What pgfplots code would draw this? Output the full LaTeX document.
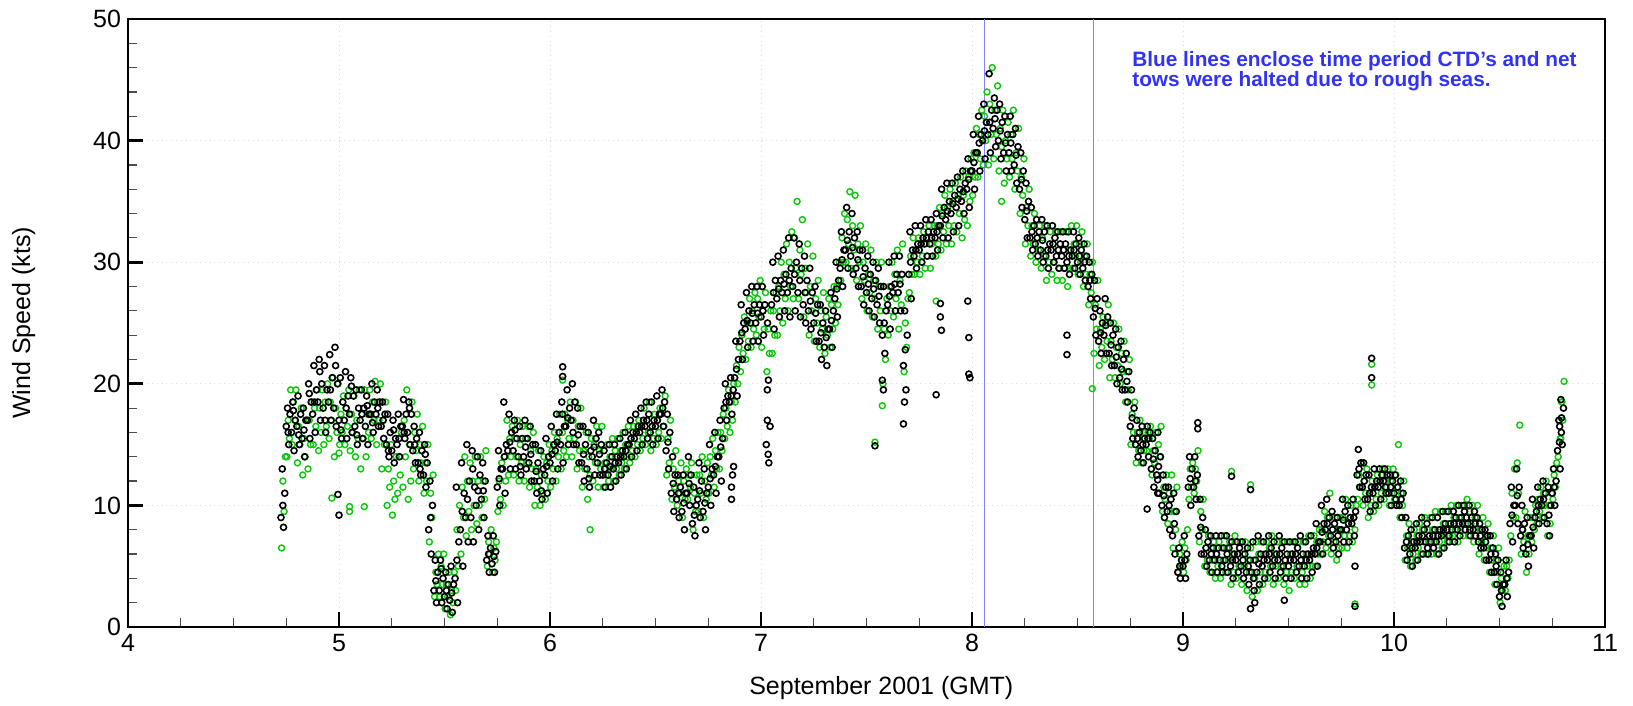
\documentclass[border=0pt]{standalone}
\usepackage{fontspec}
\setmainfont{Liberation Sans}
\usepackage{pgfplots}
\pgfplotsset{compat=1.18}
\usepackage{pgfplotstable}
\definecolor{ptgreen}{RGB}{10,200,10}
\definecolor{bline}{RGB}{130,130,255}
\definecolor{btext}{RGB}{50,50,245}

% wind speed (kts): per time step, five black-sensor and four green-sensor readings
\pgfplotstableread{
t b1 b2 b3 b4 g1 g2 g3 g4 b5
4.725 8.2 9.0 11 13 6.5 9.5 12 14 10
4.75 15 16.5 17.5 18 14 15.5 17 19.5 16
4.775 14.5 16 17 18.5 15 17 18.5 19.5 17.8
4.8 15 16.5 17.5 19 13.5 15 16.5 18 15.8
4.825 14 15.5 17 18 12.5 14 15.5 17 16.2
4.85 15.5 17 18.5 20 13 15 17 18.5 19.2
4.875 16 17.5 19.5 21.5 15 16.5 18 19.5 18.5
4.9 17 18.5 20 22 14.5 16 18 19.5 21
4.925 16 18 19.5 21.5 15 16.5 18.5 20 17
4.95 17 18.5 20.5 22.4 15.5 17 18.5 20.5 19.5
4.975 16.5 18 20 23 14 16 18 20 21.5
5.0 15.5 17 18.5 20.5 15 16 17.5 19 16.2
5.025 15.5 17 19 21 15 16.5 18 19.5 18
5.05 16 17.5 19 20.5 14.5 16 17.5 19 19.8
5.075 15 16.5 18 19.5 14 15.5 17 19.5 15.8
5.1 15.5 17 18 19.5 13 15.5 17.5 19.5 17.5
5.125 15 16.5 17.5 19 14 16 17.5 19.5 18.2
5.15 16 17.5 18.5 20 15.5 17 18.5 20.2 16.8
5.175 16.5 17.5 18.5 19.5 15 17 18.5 20 18
5.2 15.5 16.5 17.5 18.5 13 15 17 18.5 17
5.225 14 15 16 17.5 10 11.5 13 15 14.5
5.25 13.5 14.5 15.5 17 9.2 10.5 12 14 16.2
5.275 14 15 16.5 17.5 11 12.5 14 16 15.5
5.3 15.5 16.5 17.5 18.7 11.5 14 17 19.5 16
5.325 15 16 17.5 18.5 10.5 12 15 18.5 18
5.35 13.5 14.5 15.5 16.5 13 14.5 16 17.5 15
5.375 12.5 13.5 14.5 16 12 13.5 15 16.5 13
5.4 11.5 12.5 13.5 15 11 12 13.5 15 14.2
5.425 6 8 10 12 7 9 11 12.5 9
5.45 2 3 4.5 5.5 2.5 3.5 4.5 6 3.8
5.475 2 3 4 5.5 2.5 3.5 5 6 4.8
5.5 1.5 2.5 3.5 4.5 1.5 2.5 3.5 4.5 3
5.525 1.2 2.2 3.5 5 1 2 3 4.5 2.8
5.55 2 4 7 11.5 3 5 8 10 5.5
5.575 5 8 11 13.5 6 9 11.5 14 9.5
5.6 7 9 12 15 7.5 9.5 12 13.5 10.5
5.625 7 9 11.5 14.5 8 10 12 14 13
5.65 8 10 12.5 14 8.5 10 12 14 11.2
5.675 9 10.5 12 13.5 9 10.5 12 14.5 11.2
5.7 4.5 5.5 6.5 7.5 5 6 7 8 6
5.725 4.5 5.2 6.2 7.5 4.5 5.5 6.5 7 5.8
5.75 10 11.5 13 14.5 9.5 10.5 12 13.5 12.2
5.775 11 13 15 18.5 10 12 14 17 14
5.8 13 14.5 16 17.5 12.5 14 15.5 16.5 15.2
5.825 13 14.5 15.5 17 12.5 14 15.5 17 16.2
5.85 12.5 14 15.5 16.5 12 13.5 15 16.5 13.2
5.875 13 14 15.5 17 12 13.5 15.5 16.5 14.8
5.9 12 13.5 15 16.5 11.5 13 14.5 16 14.2
5.925 11 12 13.5 15 10 11.5 13 14.5 12.8
5.95 10.5 12 13 14.5 10 11 12.5 14 11.2
5.975 11 12.5 14 15.5 10.5 12 13.5 15 13.2
6.0 12 13.5 15 16.5 11.5 13 14.5 16 14.2
6.025 13 14.5 16 17.5 12 14 15.5 17.5 15.2
6.05 13.5 15 16.5 18.5 13 14.5 16 17.5 17.5
6.075 15 16.5 18 19.5 14 15.5 17 18.5 17.2
6.1 15 17 18.5 20 14 15.5 17 18.5 16
6.125 13.5 15 16.5 18 13 14.5 16.5 18 15.8
6.15 12 13.5 15 16.5 11.5 13 14.5 16 14.2
6.175 11.5 13 14.5 16 10.5 12.5 14 15.5 12.2
6.2 12.5 14 15.5 17 12 13.5 15 16.5 14.8
6.225 12.5 13.5 15 16 11.5 13 14.5 16.5 14.2
6.25 11.5 12.5 13.5 14.5 11.5 12.5 13.5 15 13
6.275 11.5 12.5 14 15 12 13 14 15.5 13.2
6.3 12 13 14 15 12 13 14.5 15.5 13.5
6.325 12.5 13.5 14.5 15.5 12.5 13.5 14.5 16 14
6.35 13 14 15 16 13 14 15 16.5 14.5
6.375 14 15 16 17 13.5 14.5 15.5 16.5 15.5
6.4 14.5 15.5 16.5 17.5 14 15 16 17 16
6.425 15 16 17 18 14.5 15.5 16.5 18 16.5
6.45 15.5 16.5 17.5 18.5 15 16 17 18.5 17
6.475 15 16 17 18.5 14.5 15.5 16.5 17.5 16.5
6.5 15.5 16.5 17.5 19 15 16 17 18 17
6.525 16.5 17.5 18.5 19.5 15.5 16.5 18 19 18
6.55 13 14.5 16 17.5 12.5 13.5 15.5 17 15.2
6.575 9.5 11 12.5 14 10.5 11.5 13 14.5 11.8
6.6 9 10.5 11.5 12.5 10 11 12 13.5 11
6.625 8 9.5 11 12.5 9 10.5 12 13 10.2
6.65 10 11 12.5 14 10.5 11.5 12.5 13.5 11.8
6.675 7.5 8.5 10 11.5 8 9.5 11 12.5 9.2
6.7 9 10.5 12 13.5 9.5 11 12.5 14 11.2
6.725 8 9.5 11 13 9 10.5 12 13.5 10.2
6.75 10 11.5 13 15 11 12.5 14 15.5 12.2
6.775 11 12.5 14 16 11.5 13 14.5 16 13.2
6.8 12 14 15.5 17 13 14.5 16 17.5 14.8
6.825 17 18 19 20 15.5 16.5 18 19.5 18.5
6.85 17.5 18.5 19.5 20.5 16 17 18.5 20 19
6.875 19 20.5 22 23.5 18.5 20 21.5 23 21.2
6.9 22 23.5 25 26.5 21 22.5 24 25.5 24.2
6.925 23 24.5 26 27.5 22 23.5 25 27 25.2
6.95 23.5 25 26.5 28 23 24.5 26 27.5 25.8
6.975 23.5 25 26.5 28 24 25.5 27 28.5 25.8
7.0 24 25.5 26.5 28 23 24.5 26 27.5 26
7.025 13.5 15 16.5 25 21 22.5 24.5 26 14.2
7.05 24.5 26.5 28.5 30 22.5 24 26 27.5 27.5
7.075 25.5 27 28.5 30.5 24 26 28 30 27.8
7.1 26 27.5 29 31 25 27 29 31.5 28.2
7.125 25.5 27.5 29.5 32 26 28 30 32.5 28.5
7.15 26 28 30 32 27 29.5 32 35 29
7.175 25.5 27.5 29.5 31.5 27 29 31 33.5 28.5
7.2 25 26.5 28.5 30.5 25.5 27.5 29.5 31.5 27.5
7.225 24.5 26 27.5 29.5 24 26 28 30.5 26.8
7.25 23.5 25 26.5 28 23.5 25 27 28.5 25.8
7.275 22 23.5 25 26.5 23 24.5 26 27.5 24.2
7.3 21.5 23 24.5 26 22.5 24 25.5 27 23.8
7.325 23 24.5 26 27.5 23 24.5 26.5 28 25.2
7.35 25.5 27 28.5 30 25 26.5 28 30 27.8
7.375 28 29.5 31 32.5 28.5 30 32 34 30.2
7.4 29.5 31 32.5 34.5 30 31.5 33.5 35.8 31.8
7.425 29 30.5 32 34 29.5 31 33 35.5 31.2
7.45 28 29.5 31 32.5 28.5 30 31.5 33 30.2
7.475 26.5 28 29.5 31 27 28.5 30 31.5 28.8
7.5 26 27.5 29 30.5 26 27.5 29 31 28.2
7.525 25.5 27 28.5 30 25.5 27 28.5 30 27.8
7.55 25 26.5 28 29.5 24.5 26 28 30 27.2
7.575 22.5 24 26 28 20 22 24.5 27 25
7.6 24.5 26.5 28 30 24 26 28 30 27.2
7.625 26 27.5 29 30.5 25.5 27 29 31 28.2
7.65 26 27.5 29 30.5 24.5 26.5 28.5 31.5 28.2
7.675 19.5 21.5 24 26 21 23 25 27 22.8
7.7 27 29 31 32.5 27.5 29 30.5 32 30
7.725 29.5 30.5 31.5 33 29 30 31 32 31
7.75 30 31 32 33 29 30.5 31.5 32.5 31.5
7.775 30.5 31.5 32.5 33.5 29.5 30.5 32 33 32
7.8 30.5 31.5 32.5 33.5 29.5 30.5 31.5 33 32
7.825 31 32 33 34 30.5 31.5 33 34.5 32.5
7.85 32 33 34.5 36 31 32.5 34 35.5 33.8
7.875 32 33.5 35 36.5 31.5 33 34.5 36 34.2
7.9 32.5 34 35.5 36.5 31.5 33 35 36.5 34.8
7.925 33 34.5 36 37 32.5 34 35.5 37 35.2
7.95 34 35 36.5 37.5 32 33.5 35.5 37.5 35.8
7.975 34.5 36 37.5 38.5 33 35 37 38.5 36.8
8.0 36 37.5 39 40.5 35.5 37 39 41 38.2
8.025 37.5 39 40.5 42 37 38.5 40.5 42.5 39.8
8.05 38.5 40 41.5 43 38 40 42 44 40.8
8.075 39 40.5 42.5 45.5 38 40.5 43 46 41.5
8.1 39.5 41 42.5 43.5 38.5 40.5 42.5 44.5 41.8
8.125 38.5 40 41.5 43 37.5 39.5 41 42.5 40.8
8.15 37.5 39 40.5 42 36.5 38.5 40 41.5 39.8
8.175 37.5 39 40.5 42 37 38.5 40.5 42.5 39.8
8.2 36.5 38 39.5 41 36 37.5 39 41 38.8
8.225 34.5 36 37.5 39 34 35.5 37 38.5 36.8
8.25 32 33.5 35 36.5 31.5 33 34.5 36 34.2
8.275 31 32 33 34.5 30.5 31.5 33 34 32.5
8.3 30.5 31.5 32.5 33.5 30 31 32 33 32
8.325 30 31 32.5 33.5 29.5 30.5 32 33 31.8
8.35 29.5 30.5 31.5 33 28.5 30 31 32.5 31
8.375 30 31 32 33 29 30 31.5 32.5 31.5
8.4 29.5 30.5 31.5 32.5 28.5 29.5 31 32.5 31
8.425 29.5 30.5 31.5 32.5 28.5 29.5 31 32.5 31
8.45 29 30 31 32.5 28 29.5 31 33 30.5
8.475 29.5 30.5 31.5 32.5 29.5 30.5 31.5 33 31
8.5 29 30 31 32 29 30 31.5 32.5 30.5
8.525 28.5 29.5 30.5 31.5 28 29 30.5 31.5 30
8.55 27 28 29 30 26.5 27.5 29 30 28.5
8.575 24 25.5 27 28.5 22.5 24.5 26.5 28.5 26.2
8.6 22.5 23.5 25 26 21.5 23 24.5 25.5 24.2
8.625 22.5 24 25.5 27 22 23.5 25 26.5 24.8
8.65 21.5 22.5 24 25 20.5 22 23.5 25 23.2
8.675 20 21.5 23 24.5 20.5 21.5 23 24.5 22.2
8.7 19.5 20.5 22 23.5 20 21 22.5 23.5 21.2
8.725 18.5 19.5 21 22.5 18.5 19.5 21 22 20.2
8.75 15.5 16.5 18 19.5 15 16 17.5 18.5 17.2
8.775 14 15 16 17 13.5 14.5 16 17 15.5
8.8 13.5 14.5 15.5 16.5 13.5 14.5 15.5 16 15
8.825 14 15 16 16.5 14.5 15.5 16 16.5 15.5
8.85 11.5 13 14.5 15.5 12.5 13.5 14.5 16 13.8
8.875 11 12.5 14 16 12.5 14 15 16.5 13.2
8.9 9 10 11.5 12.5 9.5 10.5 11.5 12.5 10.8
8.925 8 9.5 10.5 11.5 8.5 9.5 11 12.5 10
8.95 6 7.5 9.5 11 6.5 8 9.5 11.5 8.5
8.975 4 4.5 5.5 6.5 4.5 5 6 7 5
9.0 4 5 6 7.5 4.5 5.5 6.5 8 5.5
9.025 10 11.5 13 14 10.5 11.5 13 13.5 12.2
9.05 10.5 11.5 12.5 14 11 12 13 14.5 12
9.075 6 7.5 9 10.5 7 8 9.5 10.5 8.2
9.1 5 6 7 8 5 5.5 6.5 7.5 6.5
9.125 4.5 5.5 6.5 7.5 4.5 5.5 6.5 7 6
9.15 4.5 5.5 6.5 7.5 4 5 6 7 6
9.175 4.5 5.5 6.5 7.5 4 5.5 6.5 7.5 5
9.2 4.5 5.5 6.5 7.5 4.5 5.5 6.5 7 6
9.225 4 5 6 7 3.5 4.5 6 7.5 5.5
9.25 4.5 5.5 6.5 7 4 5 6 7 6
9.275 4 5 6 7 3.5 5 6 7 5.5
9.3 3.5 4.5 5.5 6.5 3 4.5 5.5 6.5 5
9.325 3 4.5 5.5 7 2.5 4 5.5 7 4
9.35 3.5 4.5 6 7.5 3 4.5 6 7 5.2
9.375 4 5 6 7 3.5 4.5 6 7 5.5
9.4 4.5 5.5 6.5 7.5 4 5 6.5 7.5 6
9.425 4 5 6 7 3.5 5 6 7 5.5
9.45 4.5 5.5 6.5 7.5 4 5 6 7 6
9.475 4 5 6 7 3.5 4.5 5.5 7 5.5
9.5 4 5 6 7 3 4.5 6 7 5.5
9.525 4.5 5.5 6.5 7 4 5 6 7 6
9.55 4 5 6 7.5 3.5 4.5 5.5 7 5.5
9.575 4 5 6 7 3.5 5 6 7.5 5.5
9.6 4.5 5.5 6.5 7.5 4 5 6 7.5 6
9.625 5 6 7 8.5 5 6 7 8 6.5
9.65 6 7 8.5 10 6 7 8 9.5 7.8
9.675 7 8 9 10.5 6.5 7.5 9 11 8.5
9.7 6.5 7.5 8.5 9.5 6 7 8 9 8
9.725 6 7 8 9 5.5 6.5 8 9 7.5
9.75 7 8 9.5 10.5 6.5 7.5 9 10.5 8.8
9.775 7 8 9 10 6.5 7.5 8.5 10 8.5
9.8 7.5 8.5 9.5 10.5 7 8 9 10 9
9.825 11.5 12.5 13.5 14.6 10.5 11.5 12.5 13.5 13
9.85 10.5 11.5 12.5 13.5 10 11 12 13 12
9.875 9.5 10.5 11.5 12.5 9 10 11 12 11
9.9 10 11 12 13 9.5 10.5 11.5 12.5 11.5
9.925 10.5 11.5 12.5 13 10 11 12 13 12
9.95 11 12 12.5 13 10.5 11.5 12 13 11.5
9.975 10 11 12 12.5 10 11 12 13 11.5
10.0 10 11 11.5 12.5 10.5 11.5 12.5 15 10.5
10.025 9 10 11 12 9 10 11 12 10.5
10.05 5.5 6.5 7.5 9 5.5 6.5 7.5 8.5 7
10.075 5 6 7 8 5 6 7 8 6.5
10.1 5.5 6.5 7.5 8.5 5.5 6.5 7.5 8.5 7
10.125 6 7 8 9 6 7 8 9 7.5
10.15 6 7 7.5 8.5 6 7 8 9 6.5
10.175 6.5 7 8 9 6 7 8 9.5 7.5
10.2 6 7 8 9 6 7 8 9.5 7.5
10.225 6.5 7.5 8.5 9.5 6.5 7.5 8.5 9.5 8
10.25 7 8 8.5 9.5 7 7.5 8.5 10 7.5
10.275 7 8 9 9.5 7.5 8 9 10 8.5
10.3 7.5 8 9 10 7 8 9 10 8.5
10.325 8 8.5 9 10 7.5 8.5 9.5 10.5 9.5
10.35 7.5 8.5 9 10 7.5 8.5 9.5 10 8
10.375 7.5 8 9 9.5 7 8 9 10 8.5
10.4 6.5 7 8 8.5 6 7 8 9 7.5
10.425 5.5 6.5 7.5 8 5.5 6.5 7.5 8.5 7
10.45 4.5 5.5 6.5 7.5 4.5 5.5 6.5 7.5 6
10.475 3.5 4.5 5.5 6 3.5 4.5 5.5 6.5 5
10.5 1.7 2.5 3.5 4.5 2 3 4 5 3
10.525 2.5 3.5 4.5 5.5 3 4 5 5.5 4
10.55 7 8.5 10 11.5 7.5 9 11 13 9.2
10.575 8.5 10 11.5 13 9 11 13.5 16.6 10.8
10.6 6.5 7.5 8.5 10 6 7 8 9.5 8
10.625 5 6 7.5 9 4.5 6 7.5 9 6.8
10.65 6.5 7.5 9 10.5 7 8 9 10 8.2
10.675 8.5 9.5 10.5 11.5 8.5 9.5 10.5 11.5 10
10.7 9 10 11 12 9 10 11 12 10.5
10.725 7.5 8.5 10 11.5 7.5 8.5 10 11 9.2
10.75 10 11 12 13 10.5 11.5 12.5 13.5 11.5
10.775 13 14.5 16 17 14 15.5 17 18.5 15.2
10.785 15 16.5 18 18.7 15.5 17 18.5 20.2 17.2
}\wind

% isolated readings away from the main band
\pgfplotstableread{
x y
4.995 10.9
5.0 9.2
6.06 21.4
6.06 20.6
6.86 10.5
6.86 11.5
6.865 12.5
6.87 13.2
7.03 17.0
7.03 19.5
7.035 20.3
7.54 14.9
7.575 20.3
7.58 19.5
7.675 16.7
7.68 18.5
7.83 19.1
7.85 26.6
7.85 25.5
7.855 24.4
7.98 26.8
7.985 23.8
7.985 20.8
7.99 20.5
8.45 24.0
8.45 22.4
8.83 9.7
8.88 12.1
8.88 11.0
9.07 16.8
9.07 16.3
9.23 12.4
9.32 11.3
9.32 1.5
9.34 2.0
9.48 2.2
9.815 5.0
9.815 1.7
9.894 22.1
9.894 20.5
}\bout

\pgfplotstableread{
x y
4.966 10.6
5.05 9.5
5.05 9.9
5.12 9.9
5.0 14.3
6.06 20.3
6.19 8.0
7.54 15.2
7.575 18.2
7.83 26.8
8.14 35.0
8.57 19.6
9.23 12.8
9.32 11.7
9.815 1.9
9.894 21.6
9.894 19.9
}\gout

\begin{document}
\begin{tikzpicture}
\begin{axis}[
  scale only axis, width=738.5pt, height=304pt,
  xmin=4, xmax=11, ymin=0, ymax=50,
  xtick={4,5,...,11}, ytick={0,10,...,50},
  minor x tick num=3, minor y tick num=4,
  tick align=inside, xtick pos=bottom, ytick pos=left,
  major tick length=7.5pt, minor tick length=4.5pt,
  every major tick/.style={line width=1.4pt, black},
  every minor tick/.style={line width=0.6pt, black!70},
  axis line style={line width=1.3pt},
  grid=major, major grid style={dotted, gray!28, line width=0.5pt},
  /pgf/number format/assume math mode=true,
  tick label style={font=\fontsize{12.5}{14}\selectfont},
  label style={font=\fontsize{12.5}{15}\selectfont},
  xlabel={September 2001 (GMT)}, ylabel={Wind Speed (kts)},
  xlabel style={at={(axis description cs:0.51,-0.069)}, anchor=north},
  ylabel style={at={(axis description cs:-0.058,0.5)}, anchor=south},
  every axis plot/.append style={only marks, mark=o, mark size=1.5pt, line width=0.7pt},
]
\addplot[ptgreen] table[x expr=\thisrow{t}+0.003, y=g1] {\wind};
\addplot[ptgreen] table[x expr=\thisrow{t}+0.009, y=g3] {\wind};
\addplot[ptgreen] table[x expr=\thisrow{t}+0.015, y=g2] {\wind};
\addplot[ptgreen] table[x expr=\thisrow{t}+0.021, y=g4] {\wind};
\addplot[ptgreen] table[x=x, y=y] {\gout};
\addplot[black, line width=0.8pt] table[x expr=\thisrow{t}, y=b2] {\wind};
\addplot[black, line width=0.8pt] table[x expr=\thisrow{t}+0.006, y=b4] {\wind};
\addplot[black, line width=0.8pt] table[x expr=\thisrow{t}+0.012, y=b1] {\wind};
\addplot[black, line width=0.8pt] table[x expr=\thisrow{t}+0.018, y=b3] {\wind};
\addplot[black, line width=0.8pt] table[x expr=\thisrow{t}+0.009, y=b5] {\wind};
\addplot[black, line width=0.8pt] table[x=x, y=y] {\bout};
\addplot[bline, no marks, sharp plot, line width=0.7pt] coordinates {(8.06,0) (8.06,50)};
\addplot[bline, no marks, sharp plot, line width=0.7pt] coordinates {(8.575,0) (8.575,50)};
\node[anchor=north west, inner sep=0pt, align=left, text=btext,
      font=\fontsize{10.4}{10.4}\selectfont\bfseries]
  at (axis cs:8.758,47.4) {Blue lines enclose time period CTD’s and net\\tows were halted due to rough seas.};
\end{axis}
\path ([xshift=-64pt,yshift=-38.25pt]current axis.south west) rectangle ([xshift=14pt,yshift=9.5pt]current axis.north east);
\end{tikzpicture}
\end{document}
